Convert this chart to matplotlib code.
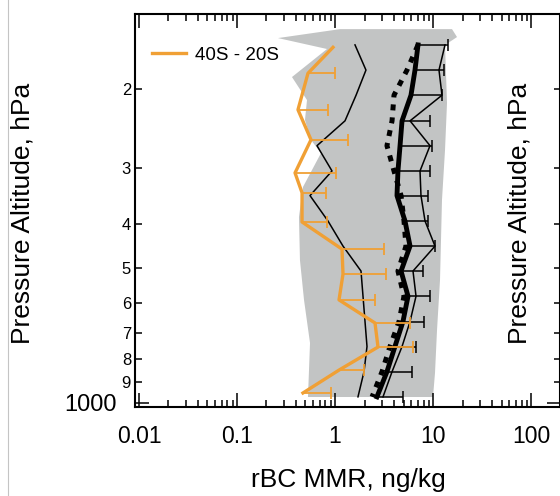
import numpy as np
import matplotlib
matplotlib.use("Agg")
import matplotlib.pyplot as plt
from matplotlib.lines import Line2D
from matplotlib.ticker import FixedLocator, LogLocator, NullFormatter

plt.rcParams['font.family'] = ['Liberation Sans', 'DejaVu Sans']

# Pressure-altitude bins (hPa)
p_levels = np.array([160, 182, 207, 236, 268, 305, 346, 394, 448, 509, 579, 659, 749, 852, 969])

# rBC mass mixing ratio profiles, ng/kg
median_rbc = np.array([7.03, 6.55, 5.96, 4.83, 4.61, 4.39, 4.29, 5.18, 5.83, 4.72, 5.56, 4.94, 4.09, 3.39, 2.68])
median_err = np.array([7.17, 6.40, 6.39, 4.49, 5.16, 4.93, 4.60, 3.71, 4.65, 3.19, 3.76, 3.15, 2.62, 2.72, 2.26])
mean_rbc = np.array([13.26, 11.51, 12.35, 5.83, 9.32, 7.37, 7.54, 8.29, 10.48, 6.25, 6.71, 5.83, 4.83, 3.82, 3.09])
low_rbc = np.array([1.60, 2.07, 1.64, 1.265, 0.655, 0.932, 0.556, 0.848, 1.207, 1.842, 1.931, 2.024, 2.121, 1.977, 1.716])
model_rbc = np.array([7.03, 5.43, 4.00, 3.82, 3.39, 4.00, 4.72, 5.06, 5.30, 4.39, 5.06, 4.50, 3.64, 3.02, 2.39])

# 40S - 20S latitude band
band_p = np.array([162, 185, 223, 260, 308, 341, 396, 455, 517, 590, 664, 751, 845, 950])
band_rbc = np.array([0.954, 0.530, 0.419, 0.569, 0.391, 0.461, 0.461, 1.179, 1.207, 1.099, 2.560, 2.747, 1.099, 0.471])
band_err = np.array([np.nan, 0.470, 0.429, 0.788, 0.633, 0.349, 0.368, 1.983, 2.107, 1.461, 3.266, 3.504, 0.878, 0.439])

# Envelope of all profiles (left and right edges)
env_left_p = np.array([147.6, 154.5, 163.4, 188.6, 212.2, 235.0, 260.3, 278.3, 331.1, 386.1, 481.2, 590.4, 735.6, 844.5, 969.8])
env_left_v = np.array([1.125, 0.262, 0.829, 0.364, 0.518, 0.494, 0.569, 0.720, 0.471, 0.429, 0.439, 0.483, 0.556, 0.543, 0.530])
env_right_p = np.array([147.6, 153.7, 160.1, 215.4, 274.1, 353.9, 533.0, 688.3, 857.7, 969.8])
env_right_v = np.array([15.63, 17.58, 13.26, 13.90, 13.26, 12.35, 11.79, 10.99, 10.48, 10.0])

xticks = [0.01, 0.1, 1, 10, 100]
xtick_labels = ['0.01', '0.1', '1', '10', '100']
yminor = [200, 300, 400, 500, 600, 700, 800, 900]
yminor_labels = ['2', '3', '4', '5', '6', '7', '8', '9']

ORANGE = '#F0A035'
GREY = '#C2C4C4'

W, H = 560, 496
fig = plt.figure(figsize=(W / 100, H / 100), dpi=100)

ax_left, ax_top, ax_bot = 134.5, 14, 407
ax = fig.add_axes([ax_left / W, (H - ax_bot) / H, (W - ax_left) / W, (ax_bot - ax_top) / H])
ax.set_xscale('log')
ax.set_yscale('log')
ax.set_xlim(0.0090, 197.6)
ax.set_ylim(1020.7, 136.6)

# envelope
ax.fill(np.r_[env_left_v, env_right_v[::-1]], np.r_[env_left_p, env_right_p[::-1]],
        color=GREY, lw=0, zorder=1)

# profiles
ax.plot(low_rbc, p_levels, color='k', lw=1.1, zorder=3)
ax.plot(mean_rbc, p_levels, color='k', lw=1.1, zorder=3)
ax.plot(model_rbc, p_levels, color='k', lw=3.6, ls=(0, (1.2, 1.4)), zorder=3)
ax.plot(median_rbc, p_levels, color='k', lw=3.5, zorder=4)
ax.hlines(p_levels, median_rbc, median_rbc + median_err, color='k', lw=1.1, zorder=4)
ax.plot(median_rbc + median_err, p_levels, ls='none', marker='|', ms=8, mew=1.1, color='k', zorder=4)

ok = np.isfinite(band_err)
ax.hlines(band_p[ok], band_rbc[ok], band_rbc[ok] + band_err[ok], color=ORANGE, lw=1.3, zorder=5)
ax.plot(band_rbc[ok] + band_err[ok], band_p[ok], ls='none', marker='|', ms=8, mew=1.3, color=ORANGE, zorder=5)
ax.plot(band_rbc, band_p, color=ORANGE, lw=2.4, zorder=5, label='40S - 20S')

ax.legend(loc='center left', bbox_to_anchor=(152 / W, 1 - 55 / H), bbox_transform=fig.transFigure,
          frameon=False, fontsize=13.5, handlelength=1.8, handletextpad=0.5,
          borderpad=0, borderaxespad=0)

# axes styling
for s in ax.spines.values():
    s.set_linewidth(1.5)
ax.set_xticks(xticks, xtick_labels)
ax.xaxis.set_minor_locator(LogLocator(base=10, subs=np.arange(2, 10)))
ax.xaxis.set_minor_formatter(NullFormatter())
ax.yaxis.set_major_locator(FixedLocator([1000]))
ax.set_yticklabels(['1000'])
ax.yaxis.set_minor_locator(FixedLocator(yminor))
ax.set_yticks(yminor, yminor_labels, minor=True)

ax.tick_params(which='both', direction='in', top=True, right=False, width=1.1)
ax.tick_params(axis='x', which='major', length=10, labelsize=16.5, pad=13)
ax.tick_params(axis='x', which='minor', length=5)
ax.tick_params(axis='y', which='major', length=10, labelsize=17, pad=13)
ax.tick_params(axis='y', which='minor', length=5, labelsize=12, pad=2.5)

# neighbouring panel's axis edge
ax2 = fig.add_axes([561 / W, (H - ax_bot) / H, 0.5, (ax_bot - ax_top) / H])
ax2.set_yscale('log')
ax2.set_ylim(1020.7, 136.6)
ax2.patch.set_alpha(0)
for s in ax2.spines.values():
    s.set_visible(False)
ax2.set_xticks([])
ax2.yaxis.set_major_locator(FixedLocator([1000]))
ax2.yaxis.set_minor_locator(FixedLocator(yminor))
ax2.tick_params(axis='y', which='both', direction='out', labelleft=False, width=1.1)
ax2.tick_params(axis='y', which='major', length=10)
ax2.tick_params(axis='y', which='minor', length=5)

fig.text(348.5 / W, 1 - 487 / H, 'rBC MMR, ng/kg', ha='center', va='baseline', fontsize=19)
fig.text(22.5 / W, 1 - 213.5 / H, 'Pressure Altitude, hPa', rotation=90, ha='center', va='center', fontsize=19)
fig.text(520 / W, 1 - 213.5 / H, 'Pressure Altitude, hPa', rotation=90, ha='center', va='center', fontsize=19)

fig.add_artist(Line2D([7.5 / W, 7.5 / W], [0, 1], transform=fig.transFigure, color='#C4C4C4', lw=0.8))

fig.savefig('out.png', dpi=100)
